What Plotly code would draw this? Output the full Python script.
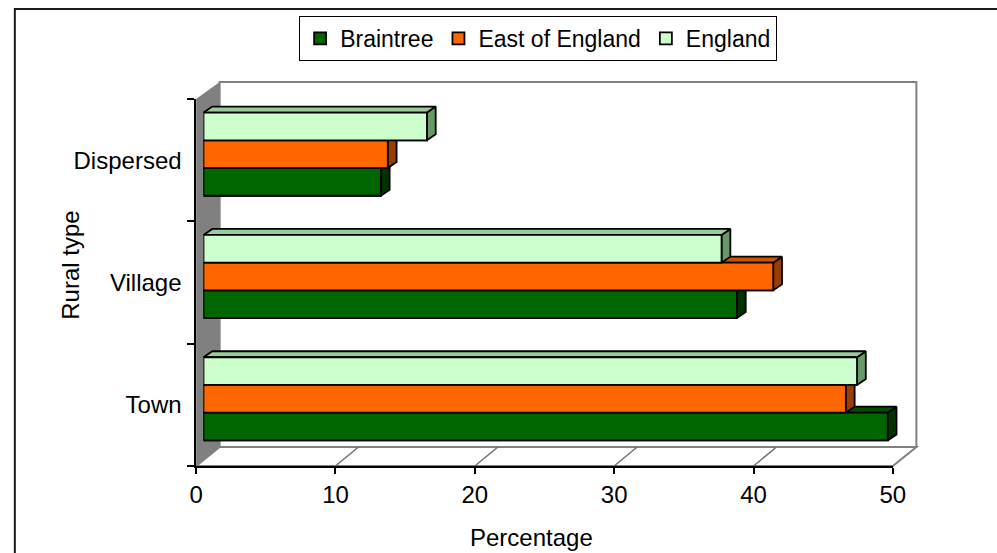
import plotly.graph_objects as go

# ---------------- data ----------------
categories = ["Town", "Village", "Dispersed"]
series_names = ["Braintree", "East of England", "England"]
braintree = [49.0, 38.2, 12.7]
east_of_england = [46.0, 40.8, 13.2]
england = [46.8, 37.1, 16.0]
x_ticks = [0, 10, 20, 30, 40, 50]

front_colors = ["#006600", "#FF6600", "#CCFFCC"]
top_colors = ["#004C00", "#CC5200", "#99CC99"]
side_colors = ["#003300", "#993D00", "#669966"]

W, H = 997, 553
FONT = "Liberation Sans, Arial, sans-serif"


def px(x):
    return x / W


def py(y):
    return 1 - y / H


values = [braintree, east_of_england, england]
cat_pos = list(range(len(categories)))
n = len(series_names)
group = 0.68
bw = group / n
half = bw / 2
dx = 0.63   # bar depth (x units)
dy = 0.049  # bar depth (y units)

fig = go.Figure()

# real bars (legend + base)
for name, vals, col in zip(series_names, values, front_colors):
    fig.add_trace(go.Bar(
        y=cat_pos, x=vals, orientation="h", name=name,
        marker=dict(color=col, line=dict(color="black", width=1.8)),
        xaxis="x", yaxis="y", hoverinfo="x+name",
    ))

# 3-D faces drawn in painter's order
for k, (name, vals) in enumerate(zip(series_names, values)):
    off = (k - (n - 1) / 2) * bw
    sx, sy, tx, ty, fx, fy = [], [], [], [], [], []
    for c, v in zip(cat_pos, vals):
        yc = c + off
        lo, hi = yc - half, yc + half
        sx += [v, v + dx, v + dx, v, v, None]
        sy += [lo, lo + dy, hi + dy, hi, lo, None]
        tx += [0, v, v + dx, dx, 0, None]
        ty += [hi, hi, hi + dy, hi + dy, hi, None]
        fx += [0, v, v, 0, 0, None]
        fy += [lo, lo, hi, hi, lo, None]
    for xs, ys, col in ((sx, sy, side_colors[k]), (tx, ty, top_colors[k]), (fx, fy, front_colors[k])):
        fig.add_trace(go.Scatter(
            x=xs, y=ys, mode="lines", fill="toself", fillcolor=col,
            line=dict(color="black", width=1.8), showlegend=False,
            hoverinfo="skip", xaxis="x", yaxis="y",
        ))

shapes = [
    # outer frame
    dict(type="rect", xref="paper", yref="paper", x0=px(8), y0=-0.05, x1=1.05, y1=py(9),
         line=dict(color="#1a1a1a", width=2), fillcolor="rgba(0,0,0,0)", layer="below"),
    # back wall
    dict(type="rect", xref="paper", yref="paper", x0=px(217), y0=py(447), x1=px(928), y1=py(82),
         line=dict(color="#808080", width=2), fillcolor="white", layer="below"),
    # side wall
    dict(type="path", xref="paper", yref="paper",
         path=f"M {px(193)},{py(99)} L {px(217)},{py(82)} L {px(217)},{py(447)} L {px(193)},{py(466)} Z",
         line=dict(width=0), fillcolor="#808080", layer="below"),
    # floor
    dict(type="path", xref="paper", yref="paper",
         path=f"M {px(193)},{py(466)} L {px(217)},{py(447)} L {px(928)},{py(447)} L {px(904)},{py(466)} Z",
         line=dict(color="#808080", width=2), fillcolor="white", layer="below"),
]
depth_units = 23.5 / ((904 - 193) / 50)
for v in x_ticks[1:-1]:
    shapes.append(dict(type="line", xref="x2", yref="paper", x0=v, y0=py(466),
                       x1=v + depth_units, y1=py(447),
                       line=dict(color="#707070", width=1.5), layer="below"))

fig.update_layout(
    width=W, height=H, autosize=False,
    margin=dict(l=0, r=0, t=0, b=0),
    paper_bgcolor="white", plot_bgcolor="rgba(0,0,0,0)",
    font=dict(family=FONT, size=24, color="black"),
    barmode="group", bargap=1 - group, bargroupgap=0,
    showlegend=True,
    legend=dict(orientation="h", x=px(542), xanchor="center", y=py(16), yanchor="top",
                bordercolor="black", borderwidth=1, bgcolor="white",
                font=dict(family=FONT, size=23, color="black"), itemwidth=30),
    xaxis=dict(domain=[px(200.5), px(913)], range=[0, 50], anchor="y",
               showgrid=False, zeroline=False, showline=False, showticklabels=False, ticks=""),
    yaxis=dict(domain=[py(460), py(93)], range=[-0.5, 2.5], anchor="x",
               showgrid=False, zeroline=False, showline=False, showticklabels=False, ticks=""),
    xaxis2=dict(domain=[px(193), px(904)], range=[0, 50], anchor="y2",
                tickvals=x_ticks, ticks="outside", ticklen=6, tickwidth=1.5, tickcolor="black",
                showline=True, linecolor="black", linewidth=2, showgrid=False, zeroline=False,
                tickfont=dict(family=FONT, size=24, color="black")),
    yaxis2=dict(domain=[py(466), py(99)], range=[-0.5, 2.5], anchor="x2",
                tickvals=cat_pos, ticktext=categories, ticks="",
                minor=dict(tickvals=[i - 0.5 for i in range(len(categories) + 1)],
                           ticks="outside", ticklen=7, tickcolor="black", tickwidth=1.5),
                showline=True, linecolor="black", linewidth=1.5, showgrid=False, zeroline=False,
                ticklabelstandoff=8,
                tickfont=dict(family=FONT, size=24, color="black")),
    xaxis3=dict(domain=[px(216.5), px(929)], range=[0, 50], anchor="y3",
                tickvals=x_ticks[1:-1], showticklabels=False, ticks="",
                showgrid=True, gridcolor="#707070", gridwidth=1.5, showline=False, zeroline=False),
    yaxis3=dict(domain=[py(447), py(82)], range=[0, 1], anchor="x3",
                showgrid=False, showticklabels=False, ticks="", showline=False, zeroline=False),
    shapes=shapes,
    annotations=[
        dict(text="Percentage", xref="paper", yref="paper", x=px(535), y=py(537),
             xanchor="center", yanchor="middle", showarrow=False,
             font=dict(family=FONT, size=24, color="black")),
        dict(text="Rural type", xref="paper", yref="paper", x=px(64), y=py(265),
             xanchor="center", yanchor="middle", showarrow=False, textangle=-90,
             font=dict(family=FONT, size=24, color="black")),
    ],
)

fig.write_html(
    "out.html",
    config={"displayModeBar": False},
    post_script="document.body.style.margin='0';document.body.style.overflow='hidden';",
)
